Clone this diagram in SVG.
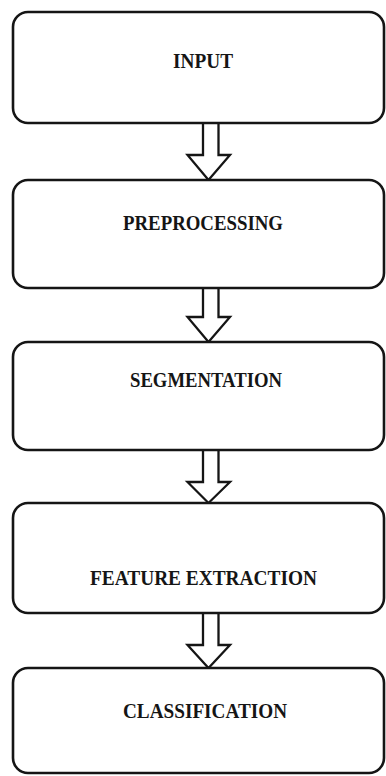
<svg xmlns="http://www.w3.org/2000/svg" width="386" height="776" viewBox="0 0 386 776">
<style>
.box{fill:#fff;stroke:#151515;stroke-width:2.6}
.arr{fill:#fff;stroke:#151515;stroke-width:2.3;stroke-linejoin:miter}
.lbl{font-family:"Liberation Serif","Times New Roman",serif;font-weight:bold;font-size:20px;fill:#151515;text-anchor:start}
</style>
<rect width="386" height="776" fill="#fff"/>
<g id="connectors">
<path class="arr" d="M203,123 V155 H187.5 L208.5,180 L230,155 H218.5 V123"/>
<path class="arr" d="M203,288 V317 H187.5 L208.5,342 L230,317 H218.5 V288"/>
<path class="arr" d="M203,450 V482 H187.5 L208.5,503 L230,482 H218.5 V450"/>
<path class="arr" d="M203,613 V645 H187.5 L208.5,668 L230,645 H218.5 V613"/>
</g>
<g id="input">
<rect class="box" x="13" y="12" width="371" height="111" rx="15"/>
<text class="lbl" x="173" y="68" textLength="60" lengthAdjust="spacingAndGlyphs">INPUT</text>
</g>
<g id="preprocessing">
<rect class="box" x="13" y="180" width="371" height="108" rx="15"/>
<text class="lbl" x="123" y="230" textLength="160" lengthAdjust="spacingAndGlyphs">PREPROCESSING</text>
</g>
<g id="segmentation">
<rect class="box" x="13" y="342" width="371" height="108" rx="15"/>
<text class="lbl" x="130" y="387" textLength="152" lengthAdjust="spacingAndGlyphs">SEGMENTATION</text>
</g>
<g id="feature-extraction">
<rect class="box" x="13" y="503" width="371" height="110" rx="15"/>
<text class="lbl" x="90" y="585" textLength="227" lengthAdjust="spacingAndGlyphs">FEATURE EXTRACTION</text>
</g>
<g id="classification">
<rect class="box" x="13" y="668" width="371" height="105" rx="15"/>
<text class="lbl" x="123" y="718" textLength="164" lengthAdjust="spacingAndGlyphs">CLASSIFICATION</text>
</g>
</svg>
